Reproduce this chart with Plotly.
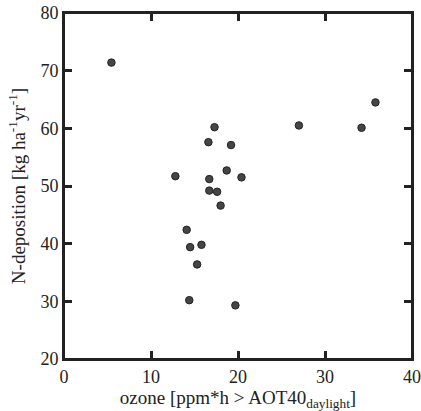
import plotly.graph_objects as go

ozone = [5.45, 35.8, 27.0, 34.2, 17.3, 16.6, 19.2, 12.8, 18.7, 16.7,
         20.4, 16.7, 17.6, 18.0, 14.1, 14.5, 15.8, 15.3, 14.4, 19.7]
n_dep = [71.4, 64.5, 60.5, 60.1, 60.2, 57.6, 57.1, 51.7, 52.7, 51.2,
         51.5, 49.2, 49.0, 46.6, 42.4, 39.4, 39.8, 36.4, 30.2, 29.3]

x_ticks = [0, 10, 20, 30, 40]
y_ticks = [20, 30, 40, 50, 60, 70, 80]

INK = "#222222"

fig = go.Figure(go.Scatter(
    x=ozone, y=n_dep, mode="markers",
    marker=dict(size=7.5, color="#454545", line=dict(color=INK, width=1)),
))

tick_font = dict(family="Liberation Serif", size=18, color=INK)
title_font = dict(family="Liberation Serif", size=19, color=INK)
axis_common = dict(
    showgrid=False, zeroline=False, showline=True, linecolor=INK, linewidth=2,
    mirror="ticks", ticks="inside", ticklen=8, tickwidth=2.5, tickcolor=INK,
    tickfont=tick_font,
)

shapes = [dict(type="rect", xref="paper", yref="paper", x0=0, y0=0, x1=1, y1=1,
               line=dict(color=INK, width=2))]

fig.update_layout(
    template="none",
    width=421, height=411,
    margin=dict(l=64, r=9, t=13, b=52, autoexpand=False),
    paper_bgcolor="white", plot_bgcolor="white",
    showlegend=False, font=tick_font,
    xaxis=dict(range=[0, 40], tickvals=x_ticks,
               title=dict(text="ozone [ppm*h > AOT40<sub>daylight</sub>]", font=title_font, standoff=3),
               **axis_common),
    yaxis=dict(range=[20, 80], tickvals=y_ticks,
               title=dict(text="N-deposition [kg ha<sup>-1</sup>yr<sup>-1</sup>]", font=title_font, standoff=10),
               **axis_common),
    shapes=shapes,
)
fig.write_html("out.html", config={"displayModeBar": False},
               post_script="document.body.style.margin='0';document.body.style.padding='0';")
